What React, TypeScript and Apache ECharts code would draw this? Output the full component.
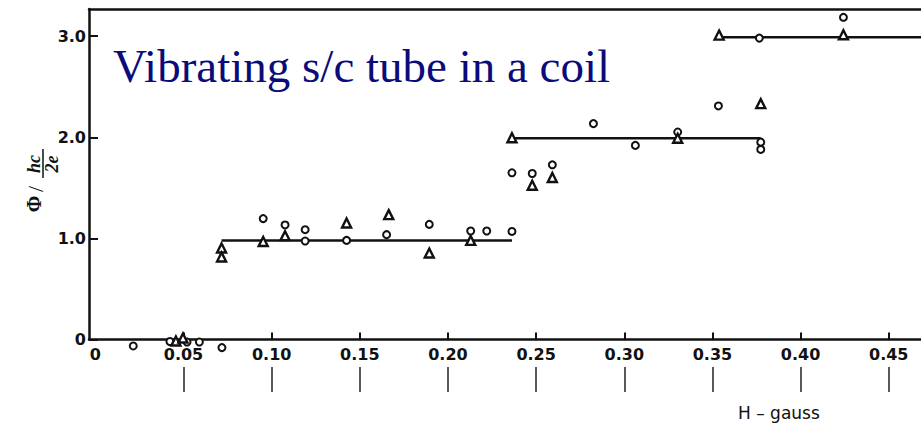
import React, { useEffect, useRef } from "react";
import * as echarts from "echarts";

// Open circles (x in gauss, y in units of hc/2e)
const circleX = [0.0215, 0.0423, 0.052, 0.059, 0.0718, 0.0952, 0.1076, 0.119, 0.119, 0.1425, 0.1652, 0.1894, 0.2129, 0.222, 0.2363, 0.2363, 0.2478, 0.2592, 0.2825, 0.3063, 0.3303, 0.3534, 0.3774, 0.3774, 0.3766, 0.4243];
const circleY = [-0.064, -0.02, -0.025, -0.025, -0.08, 1.196, 1.133, 1.086, 0.974, 0.98, 1.037, 1.139, 1.073, 1.073, 1.069, 1.649, 1.642, 1.728, 2.135, 1.92, 2.052, 2.31, 1.952, 1.88, 2.981, 3.187];

// Open triangles
const triangleX = [0.0457, 0.0497, 0.0716, 0.0716, 0.0952, 0.1076, 0.1425, 0.1664, 0.1894, 0.2129, 0.2363, 0.2478, 0.2592, 0.3303, 0.3774, 0.3538, 0.4243];
const triangleY = [-0.015, 0.015, 0.905, 0.816, 0.97, 1.027, 1.153, 1.235, 0.855, 0.98, 1.996, 1.526, 1.602, 1.99, 2.333, 3.011, 3.015];

// Quantized flux plateaus
const stepStart = [0.0716, 0.2363, 0.3538];
const stepEnd = [0.2363, 0.3774, 0.47];
const stepLevel = [0.98, 1.99, 2.99];

// Axis ticks
const xTickValues = [0, 0.05, 0.1, 0.15, 0.2, 0.25, 0.3, 0.35, 0.4, 0.45];
const lowerMarkValues = [0.05, 0.1, 0.15, 0.2, 0.25, 0.3, 0.35, 0.4, 0.45];

const X_MIN = -0.0036;
const X_MAX = 0.4683;
const Y_MAX = 3.269;

export default function App() {
  const ref = useRef<HTMLDivElement>(null);
  useEffect(() => {
    if (!ref.current) return;
    const chart = echarts.init(ref.current, undefined, { renderer: "svg" });
    const labelFont = { fontFamily: "DejaVu Sans", fontWeight: "bold" as const, fontSize: 16, color: "#111" };
    const circles = circleX.map((x, i) => [x, circleY[i]]);
    const triangles = triangleX.map((x, i) => [x, triangleY[i]]);
    const steps = stepLevel.map((lv, i) => ({
      type: "line",
      xAxisIndex: 0,
      data: [[stepStart[i], lv], [stepEnd[i], lv]],
      showSymbol: false,
      symbol: "none",
      lineStyle: { color: "#111", width: 2.5 },
      silent: true,
      z: 2,
    }));
    chart.setOption({
      animation: false,
      backgroundColor: "#fff",
      grid: { left: 89, right: 0, top: 9, bottom: 88.5, containLabel: false },
      xAxis: [
        {
          type: "value",
          min: X_MIN,
          max: X_MAX,
          position: "bottom",
          splitLine: { show: false },
          axisLine: { show: true, onZero: false, lineStyle: { color: "#111", width: 2.5 } },
          axisTick: { show: true, inside: true, length: 7, customValues: xTickValues.slice(1), lineStyle: { color: "#111", width: 2 } },
          axisLabel: {
            show: true,
            margin: 7,
            customValues: xTickValues,
            formatter: (v: number) => (v === 0 ? "0" : v.toFixed(2)),
            ...labelFont,
          },
        },
        {
          type: "value",
          min: X_MIN,
          max: X_MAX,
          position: "bottom",
          offset: 27.5,
          splitLine: { show: false },
          axisLine: { show: true, onZero: false, lineStyle: { color: "rgba(0,0,0,0)", width: 0 } },
          axisTick: { show: true, inside: false, length: 25, customValues: lowerMarkValues, lineStyle: { color: "#222", width: 1.5 } },
          axisLabel: { show: false, customValues: lowerMarkValues },
        },
        {
          type: "value",
          min: X_MIN,
          max: X_MAX,
          position: "top",
          splitLine: { show: false },
          axisLine: { show: true, onZero: false, lineStyle: { color: "#111", width: 2.5 } },
          axisTick: { show: false },
          axisLabel: { show: false },
        },
      ],
      yAxis: {
        type: "value",
        min: 0,
        max: Y_MAX,
        interval: 1,
        splitLine: { show: false },
        axisLine: { show: true, onZero: false, lineStyle: { color: "#111", width: 2.5 } },
        axisTick: { show: true, inside: true, length: 9, lineStyle: { color: "#111", width: 2 } },
        axisLabel: {
          margin: 3,
          formatter: (v: number) => (v === 0 ? "0" : v.toFixed(1)),
          showMaxLabel: false,
          ...labelFont,
        },
      },
      series: [
        ...steps,
        {
          type: "scatter",
          data: circles,
          symbol: "circle",
          symbolSize: 7,
          clip: false,
          itemStyle: { color: "#fff", borderColor: "#111", borderWidth: 2, opacity: 1 },
          z: 3,
        },
        {
          type: "scatter",
          data: triangles,
          symbol: "triangle",
          symbolSize: 9,
          clip: false,
          itemStyle: { color: "#fff", borderColor: "#111", borderWidth: 2.4, opacity: 1 },
          z: 4,
        },
      ],
      graphic: [
        {
          type: "text",
          left: 113,
          top: 42,
          style: { text: "Vibrating s/c tube in a coil", font: '47px "Liberation Serif"', fill: "#0b0b7a" },
          z: 10,
        },
        {
          type: "text",
          left: 738,
          top: 404,
          style: { text: "H – gauss", font: '17px "DejaVu Sans"', fill: "#111" },
        },
        {
          type: "group",
          x: 40,
          y: 180,
          rotation: Math.PI / 2,
          children: [
            { type: "text", x: -24, y: -6, style: { text: "Φ", font: 'bold 20px "Liberation Serif"', fill: "#111", align: "center", verticalAlign: "middle" } },
            { type: "text", x: -9, y: -5, style: { text: "/", font: '22px "Liberation Serif"', fill: "#111", align: "center", verticalAlign: "middle" } },
            { type: "text", x: 16, y: -6, style: { text: "hc", font: 'italic bold 18px "Liberation Serif"', fill: "#111", align: "center", verticalAlign: "middle" } },
            { type: "line", shape: { x1: 2, y1: 3, x2: 31, y2: 3 }, style: { stroke: "#111", lineWidth: 1.5 } },
            { type: "text", x: 16, y: 12, style: { text: "2e", font: 'italic bold 18px "Liberation Serif"', fill: "#111", align: "center", verticalAlign: "middle" } },
          ],
        },
      ],
    });
    return () => chart.dispose();
  }, []);
  return <div ref={ref} style={{ width: 921, height: 428, position: "absolute", left: 0, top: 0 }} />;
}
